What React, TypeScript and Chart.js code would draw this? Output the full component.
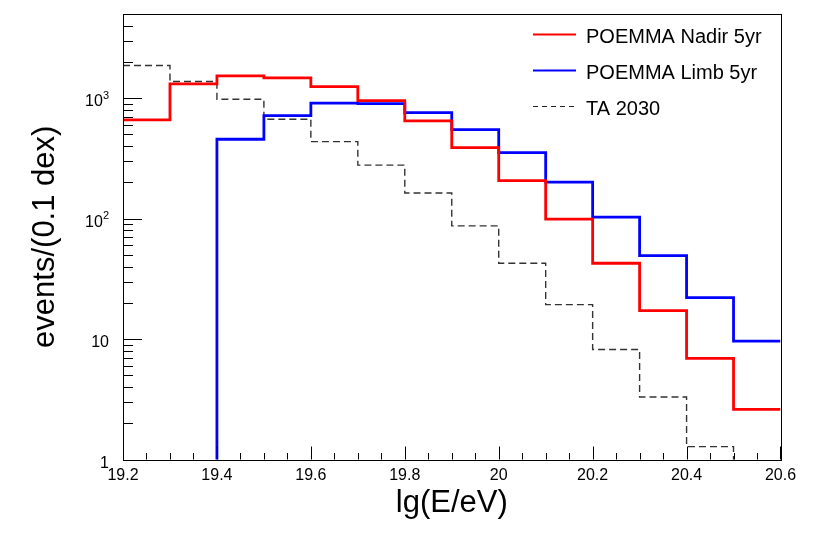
import { useEffect, useRef } from "react";
import { Chart, registerables } from "chart.js";

Chart.register(...registerables);

// lower edges of the 0.1 dex bins
const binLow = [19.2, 19.3, 19.4, 19.5, 19.6, 19.7, 19.8, 19.9, 20.0, 20.1, 20.2, 20.3, 20.4, 20.5];
const binWidth = 0.1;

const nadir5yr = [661, 1315, 1531, 1475, 1248, 955, 648, 389, 207, 99, 42.6, 17.2, 6.9, 2.61];
const limb5yr = [0, 0, 456, 717, 909, 900, 759, 548, 353, 201, 103, 49.3, 22.1, 9.6];
const ta2030 = [1866, 1374, 981, 669, 436, 278, 163, 87, 42.6, 19.3, 8.2, 3.3, 1.28, 0];

const seriesNames = ["POEMMA Nadir 5yr", "POEMMA Limb 5yr", "TA 2030"];
const yDecades = [1, 10, 100, 1000];
// base and exponent of each decade label ("" = no exponent)
const yDecadeBase = ["1", "10", "10", "10"];
const yDecadeExp = ["", "", "2", "3"];

const FONT = "'Liberation Sans', Arial, Helvetica, sans-serif";

// histogram as a stepped line: one point per lower edge plus the last upper edge
function histPoints(values: number[]) {
  const pts = binLow.map((x, i) => ({ x, y: values[i] > 0 ? values[i] : 1e-3 }));
  const last = values.length - 1;
  pts.push({ x: binLow[last] + binWidth, y: pts[last].y });
  return pts;
}

const rootStyle = {
  id: "rootStyle",
  afterDatasetsDraw(chart: any) {
    const { ctx, chartArea } = chart;
    const { left, right, top, bottom } = chartArea;
    const xs = chart.scales.x;
    const ys = chart.scales.y;
    ctx.save();
    ctx.strokeStyle = "#000";
    ctx.lineWidth = 1;
    ctx.beginPath();
    // x ticks inside the frame, major every 0.2, minor every 0.05
    for (let i = 0; i <= 28; i++) {
      const px = Math.round(xs.getPixelForValue(19.2 + i * 0.05)) + 0.5;
      const len = i % 4 === 0 ? 13 : 6.5;
      ctx.moveTo(px, bottom);
      ctx.lineTo(px, bottom - len);
    }
    // y log ticks inside the frame
    yDecades.forEach((d) => {
      for (let k = 1; k <= 9; k++) {
        const v = k * d;
        if (v > ys.max) break;
        const py = Math.round(ys.getPixelForValue(v)) + 0.5;
        const len = k === 1 ? 19 : 10;
        ctx.moveTo(left, py);
        ctx.lineTo(left + len, py);
      }
    });
    ctx.stroke();
    ctx.strokeRect(Math.round(left) + 0.5, Math.round(top) + 0.5, Math.round(right - left), Math.round(bottom - top));
    ctx.restore();
  },
  afterDraw(chart: any) {
    const { ctx, chartArea } = chart;
    const { left, right, top, bottom } = chartArea;
    const ys = chart.scales.y;

    // y decade labels with superscript exponents
    ctx.save();
    ctx.fillStyle = "#000";
    ctx.textBaseline = "alphabetic";
    ctx.textAlign = "right";
    yDecades.forEach((d, i) => {
      const py = ys.getPixelForValue(d);
      const xr = 109;
      let supW = 0;
      if (yDecadeExp[i]) {
        ctx.font = `11px ${FONT}`;
        supW = ctx.measureText(yDecadeExp[i]).width;
        ctx.fillText(yDecadeExp[i], xr, py + 0.5);
      }
      ctx.font = `16px ${FONT}`;
      ctx.fillText(yDecadeBase[i], xr - supW, py + 8);
    });
    ctx.restore();

    // axis titles
    ctx.save();
    ctx.fillStyle = "#000";
    ctx.font = `31px ${FONT}`;
    ctx.textAlign = "center";
    ctx.textBaseline = "alphabetic";
    ctx.fillText("lg(E/eV)", (left + right) / 2, 512);
    ctx.translate(54, (top + bottom) / 2);
    ctx.rotate(-Math.PI / 2);
    ctx.fillText("events/(0.1 dex)", 0, 0);
    ctx.restore();

    // legend
    const styles = [
      { color: "#ff0000", dash: [] as number[], width: 2 },
      { color: "#0000ff", dash: [] as number[], width: 2 },
      { color: "#222", dash: [5, 4], width: 1.2 },
    ];
    ctx.save();
    ctx.font = `20px ${FONT}`;
    ctx.textAlign = "left";
    ctx.textBaseline = "alphabetic";
    seriesNames.forEach((name, i) => {
      const y = 34.5 + i * 36;
      const s = styles[i];
      ctx.strokeStyle = s.color;
      ctx.lineWidth = s.width;
      ctx.setLineDash(s.dash);
      ctx.beginPath();
      ctx.moveTo(533, y);
      ctx.lineTo(576, y);
      ctx.stroke();
      ctx.setLineDash([]);
      ctx.fillStyle = "#000";
      ctx.fillText(name, 586, y + 8);
    });
    ctx.restore();
  },
};

export default function App() {
  const canvasRef = useRef<HTMLCanvasElement>(null);
  const chartRef = useRef<Chart | null>(null);

  useEffect(() => {
    if (!canvasRef.current) return;
    if (chartRef.current) chartRef.current.destroy();
    const ctx = canvasRef.current.getContext("2d");
    if (!ctx) return;

    chartRef.current = new Chart(ctx, {
      type: "line",
      data: {
        datasets: [
          {
            label: seriesNames[0],
            data: histPoints(nadir5yr),
            borderColor: "#ff0000",
            borderWidth: 2.8,
            stepped: "before",
            pointRadius: 0,
            fill: false,
            borderJoinStyle: "miter",
            borderCapStyle: "butt",
          },
          {
            label: seriesNames[1],
            data: histPoints(limb5yr),
            borderColor: "#0000ff",
            borderWidth: 2.8,
            stepped: "before",
            pointRadius: 0,
            fill: false,
            borderJoinStyle: "miter",
            borderCapStyle: "butt",
          },
          {
            label: seriesNames[2],
            data: histPoints(ta2030),
            borderColor: "#333333",
            borderWidth: 1.4,
            borderDash: [7, 4],
            stepped: "before",
            pointRadius: 0,
            fill: false,
            borderJoinStyle: "miter",
            borderCapStyle: "butt",
          },
        ],
      },
      options: {
        animation: false,
        responsive: false,
        maintainAspectRatio: false,
        layout: { padding: { left: 0, top: 14, right: 41.5, bottom: 0 } },
        plugins: { legend: { display: false }, tooltip: { enabled: false } },
        scales: {
          x: {
            type: "linear",
            min: 19.2,
            max: 20.6,
            afterFit: (s: any) => {
              s.height = 98.5;
            },
            grid: { display: false, drawTicks: false },
            border: { display: false },
            ticks: {
              stepSize: 0.2,
              autoSkip: false,
              maxRotation: 0,
              padding: 6,
              color: "#000",
              font: { family: FONT, size: 16 },
              callback: (v: any) => String(Math.round(Number(v) * 10) / 10),
            },
          },
          y: {
            type: "logarithmic",
            min: 1,
            max: 5000,
            afterFit: (s: any) => {
              s.width = 123;
            },
            grid: { display: false, drawTicks: false },
            border: { display: false },
            ticks: { display: false },
          },
        },
      },
      plugins: [rootStyle],
    } as any);

    return () => {
      if (chartRef.current) {
        chartRef.current.destroy();
        chartRef.current = null;
      }
    };
  }, []);

  return (
    <div style={{ position: "absolute", left: 0, top: 0, width: 822, height: 558, background: "#fff" }}>
      <canvas ref={canvasRef} width={822} height={558} style={{ display: "block" }} />
    </div>
  );
}
